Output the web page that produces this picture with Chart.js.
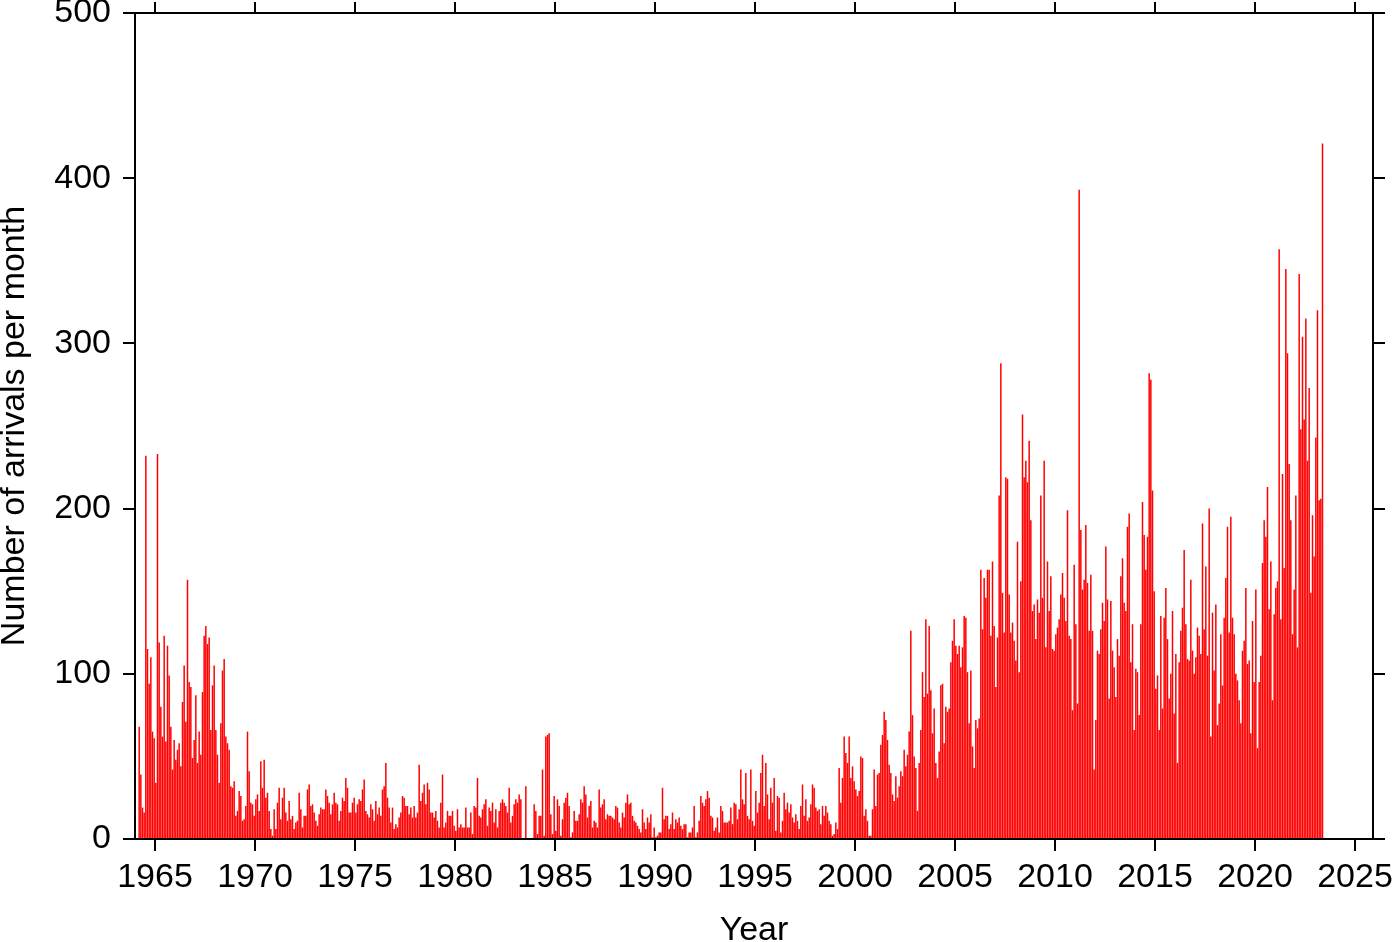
<!DOCTYPE html>
<html>
<head>
<meta charset="utf-8">
<title>Arrivals per month</title>
<script src="https://cdn.jsdelivr.net/npm/chart.js@4.4.1/dist/chart.umd.min.js"></script>
<style>
    html, body { margin: 0; padding: 0; background: #ffffff; }
    canvas { display: block; }
</style>
</head>
<body>

<canvas id="arrivalsChart" width="1400" height="942"></canvas>

<script>

// ==========================
// DATOS (un valor por mes, desde enero de startYear)
// ==========================

const startYear = 1964;

const arrivals1960s = [
    0, 0, 68, 39, 19, 16, 232, 115, 94, 110, 65, 61,
    34, 233, 119, 80, 62, 123, 59, 117, 99, 68, 42, 60,
    48, 54, 58, 44, 83, 105, 71, 157, 95, 92, 49, 60,
    87, 46, 65, 51, 89, 123, 129, 118, 122, 66, 93, 105,
    66, 51, 34, 70, 102, 109, 62, 58, 54, 32, 31, 35,
    14, 17, 29, 26, 11, 12, 20, 65, 41, 22, 21, 14
];

const arrivals1970s = [
    24, 27, 17, 47, 31, 48, 25, 28, 17, 6, 2, 18,
    6, 22, 31, 12, 25, 31, 16, 11, 23, 12, 14, 6,
    10, 11, 28, 18, 7, 14, 14, 30, 33, 20, 21, 16,
    11, 8, 15, 19, 18, 18, 30, 26, 22, 15, 21, 28,
    22, 21, 11, 17, 25, 23, 37, 31, 16, 16, 22, 25,
    16, 21, 24, 23, 30, 36, 17, 15, 13, 21, 18, 11,
    23, 15, 19, 14, 30, 32, 46, 25, 19, 10, 19, 6,
    9, 7, 13, 16, 26, 25, 20, 20, 15, 19, 13, 20,
    13, 16, 45, 23, 28, 33, 21, 34, 30, 16, 16, 13,
    17, 11, 7, 22, 39, 7, 10, 17, 14, 14, 17, 8
];

const arrivals1980s = [
    5, 18, 7, 9, 7, 7, 19, 7, 7, 16, 3, 20,
    19, 37, 14, 13, 18, 21, 24, 8, 19, 17, 22, 10,
    18, 7, 17, 22, 24, 22, 20, 16, 31, 10, 14, 21,
    24, 22, 27, 24, 0, 0, 32, 0, 0, 0, 0, 21,
    17, 3, 14, 14, 42, 2, 62, 63, 64, 15, 3, 26,
    5, 24, 20, 2, 12, 22, 25, 28, 20, 1, 4, 17,
    11, 11, 15, 24, 22, 32, 27, 13, 20, 23, 7, 11,
    10, 7, 30, 19, 21, 24, 12, 15, 14, 14, 13, 12,
    20, 19, 10, 7, 16, 13, 22, 27, 21, 22, 14, 11,
    10, 8, 6, 4, 18, 10, 6, 13, 10, 15, 1, 7
];

const arrivals1990s = [
    1, 2, 4, 4, 31, 12, 14, 14, 6, 9, 16, 6,
    12, 10, 13, 8, 6, 9, 9, 1, 4, 4, 7, 20,
    1, 4, 11, 26, 22, 20, 24, 29, 25, 14, 13, 5,
    7, 13, 4, 20, 17, 10, 10, 10, 11, 19, 9, 22,
    21, 12, 18, 42, 24, 21, 40, 14, 12, 42, 11, 8,
    29, 16, 22, 40, 51, 20, 46, 27, 12, 31, 22, 37,
    5, 26, 25, 4, 11, 28, 18, 22, 16, 21, 13, 10,
    15, 11, 6, 20, 33, 14, 24, 11, 13, 21, 33, 31,
    19, 17, 18, 9, 20, 14, 20, 16, 11, 9, 2, 3,
    10, 6, 43, 22, 37, 62, 52, 46, 62, 37, 44, 35
];

const arrivals2000s = [
    30, 26, 29, 50, 49, 14, 18, 11, 2, 2, 18, 42,
    20, 39, 40, 57, 63, 77, 72, 60, 45, 40, 27, 23,
    38, 25, 32, 41, 38, 54, 44, 51, 65, 126, 75, 50,
    43, 17, 46, 66, 101, 86, 133, 88, 129, 90, 64, 79,
    46, 37, 53, 93, 94, 58, 80, 77, 79, 107, 120, 133,
    117, 112, 117, 104, 116, 135, 134, 101, 70, 102, 56, 43,
    72, 67, 73, 163, 127, 158, 146, 163, 163, 123, 168, 129,
    92, 122, 208, 288, 149, 125, 219, 218, 148, 125, 131, 120,
    108, 180, 101, 156, 257, 219, 229, 216, 241, 193, 138, 142,
    121, 145, 137, 208, 146, 229, 116, 168, 138, 159, 115, 114
];

const arrivals2010s = [
    124, 128, 133, 148, 161, 146, 132, 199, 123, 121, 78, 166,
    130, 82, 393, 187, 151, 157, 190, 155, 126, 160, 126, 42,
    72, 114, 112, 127, 143, 132, 177, 145, 85, 144, 114, 104,
    86, 121, 111, 159, 170, 143, 138, 189, 197, 107, 130, 66,
    103, 101, 75, 130, 204, 184, 163, 183, 282, 278, 211, 150,
    91, 99, 66, 135, 79, 134, 152, 121, 85, 100, 138, 76,
    112, 46, 107, 126, 140, 175, 130, 109, 108, 157, 114, 100,
    110, 128, 123, 112, 191, 127, 165, 111, 200, 62, 137, 102,
    142, 69, 82, 124, 93, 134, 158, 189, 125, 195, 134, 124,
    100, 96, 84, 70, 114, 120, 152, 106, 108, 64, 132, 95
];

const arrivals2020s = [
    151, 55, 95, 111, 167, 193, 183, 213, 139, 168, 84, 136,
    152, 156, 357, 133, 221, 164, 345, 294, 227, 193, 124, 151,
    208, 116, 342, 248, 304, 254, 315, 229, 273, 149, 196, 171,
    243, 320, 205, 206, 421
];

const yearTicks = [1965, 1970, 1975, 1980, 1985, 1990, 1995, 2000, 2005, 2010, 2015, 2020, 2025];
const countTicks = [0, 100, 200, 300, 400, 500];

const xTitle = "Year";
const yTitle = "Number of arrivals per month";


// ==========================
// GRÁFICO
// ==========================

const fontFamily = "'Liberation Sans', Arial, Helvetica, sans-serif";

const monthly = [].concat(
    arrivals1960s, arrivals1970s, arrivals1980s, arrivals1990s,
    arrivals2000s, arrivals2010s, arrivals2020s
);

// barra centrada en la mitad de su mes
const points = monthly.map((value, i) => ({
    x: startYear + (i + 0.5) / 12,
    y: value
}));

const xMin = 1964;
const xMax = 2025.9;

function setTicks(values) {
    return scale => {
        scale.ticks = values.map(v => ({ value: v }));
    };
}

// tamaño fijo de cada eje para que el área del gráfico quede en su sitio
function fixSize(prop, size) {
    return scale => {
        scale[prop] = size;
        scale.paddingTop = 0;
        scale.paddingBottom = 0;
        scale.paddingLeft = 0;
        scale.paddingRight = 0;
    };
}

const tickFont = { family: fontFamily, size: 34 };
const titleFont = { family: fontFamily, size: 34, lineHeight: 1 };

const frameGrid = {
    drawOnChartArea: false,
    drawTicks: true,
    tickLength: 12,
    color: "#000000",
    lineWidth: 2,
    offset: false
};

const frameBorder = { display: true, color: "#000000", width: 2 };

const ctx = document.querySelector("#arrivalsChart").getContext("2d");

new Chart(ctx, {

    type: "bar",

    data: {
        datasets: [{
            data: points,
            xAxisID: "x",
            yAxisID: "y",
            backgroundColor: "rgb(255, 0, 0)",
            borderWidth: 0,
            barPercentage: 0.9,
            categoryPercentage: 1
        }]
    },

    options: {

        responsive: false,
        animation: false,
        devicePixelRatio: 1,
        layout: { padding: 0 },

        plugins: {
            legend: { display: false },
            tooltip: { enabled: false }
        },

        scales: {

            x: {
                type: "linear",
                position: "bottom",
                min: xMin,
                max: xMax,
                offset: false,
                afterBuildTicks: setTicks(yearTicks),
                afterFit: fixSize("height", 942 - 839),
                ticks: {
                    color: "#000000",
                    font: tickFont,
                    padding: 6,
                    maxRotation: 0,
                    autoSkip: false,
                    callback: value => String(value)
                },
                grid: frameGrid,
                border: frameBorder,
                title: {
                    display: true,
                    text: xTitle,
                    color: "#000000",
                    font: titleFont,
                    padding: { top: 0, bottom: -6 }
                }
            },

            x2: {
                type: "linear",
                position: "top",
                min: xMin,
                max: xMax,
                offset: false,
                afterBuildTicks: setTicks(yearTicks),
                afterFit: fixSize("height", 13),
                ticks: { display: false },
                grid: Object.assign({}, frameGrid, { tickLength: 11 }),
                border: frameBorder
            },

            y: {
                type: "linear",
                position: "left",
                min: 0,
                max: 500,
                afterBuildTicks: setTicks(countTicks),
                afterFit: fixSize("width", 135),
                ticks: {
                    color: "#000000",
                    font: tickFont,
                    padding: 12
                },
                grid: frameGrid,
                border: frameBorder,
                title: {
                    display: true,
                    text: yTitle,
                    color: "#000000",
                    font: titleFont,
                    padding: { top: -2, bottom: 0 }
                }
            },

            y2: {
                type: "linear",
                position: "right",
                min: 0,
                max: 500,
                afterBuildTicks: setTicks(countTicks),
                afterFit: fixSize("width", 1400 - 1373),
                ticks: { display: false },
                grid: frameGrid,
                border: frameBorder
            }

        }

    }

});

</script>
</body>
</html>
